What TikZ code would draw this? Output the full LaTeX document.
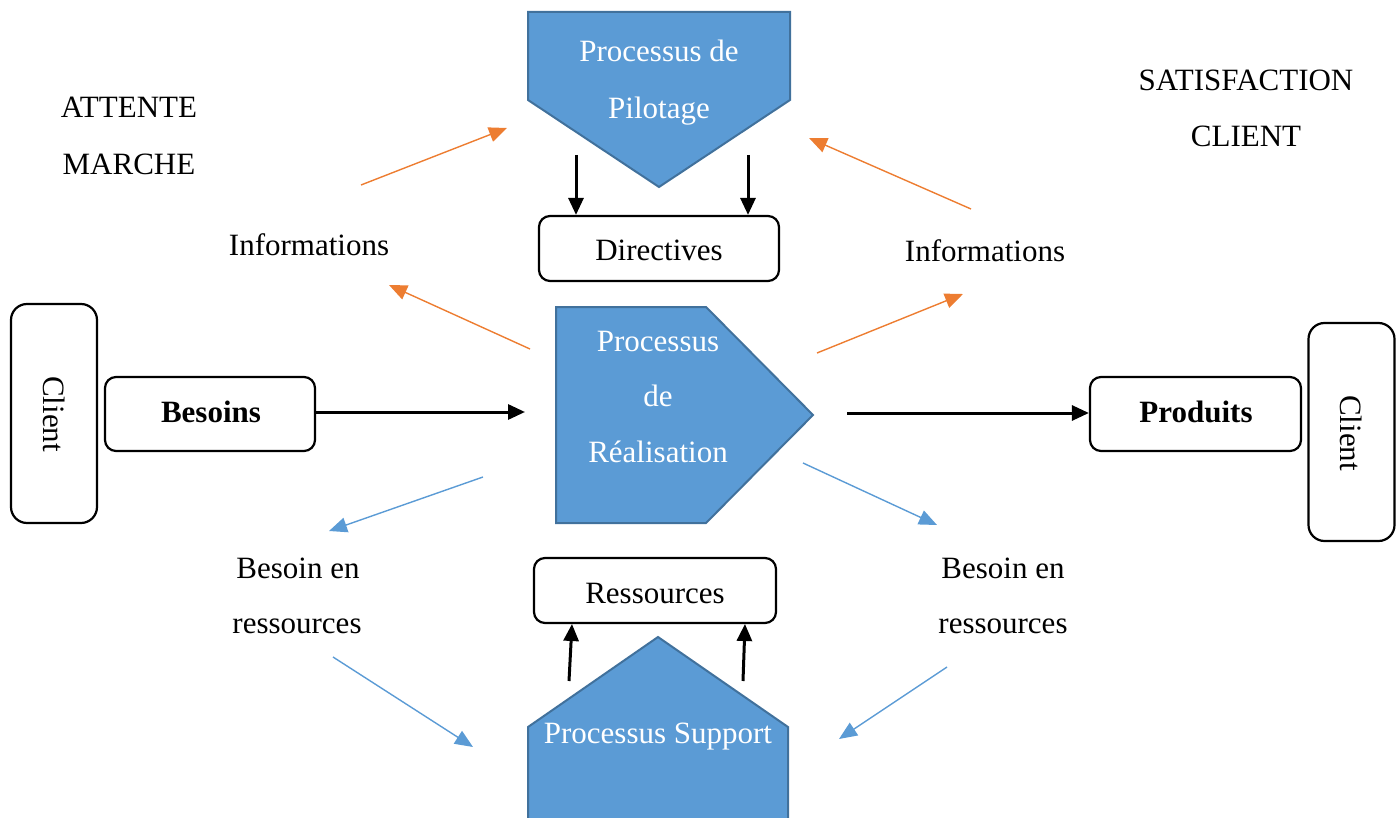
\documentclass[tikz,border=0pt]{standalone}
\usepackage{fontspec}
\setmainfont{Liberation Serif}
\usetikzlibrary{arrows.meta}
\definecolor{procfill}{HTML}{5B9BD5}
\definecolor{procdraw}{HTML}{41719C}
\definecolor{orangeln}{HTML}{ED7D31}
\definecolor{blueln}{HTML}{5B9BD5}
\begin{document}
\begin{tikzpicture}[x=1pt,y=-1pt,
  every node/.style={font=\fontsize{31}{36}\selectfont},
  box/.style={draw=black,line width=2.2pt,rounded corners=11pt,inner sep=0pt},
  clientbox/.style={box,rounded corners=16pt},
  proc/.style={fill=procfill,draw=procdraw,line width=2pt,line join=miter},
  wtext/.style={text=white,anchor=base,inner sep=0pt},
  btext/.style={text=black,anchor=base,inner sep=0pt},
  flow/.style={draw=black,line width=3pt,-{Triangle[length=17pt,width=15pt]}},
  info/.style={draw=orangeln,line width=1.4pt,-{Triangle[length=18pt,width=15pt]}},
  need/.style={draw=blueln,line width=1.4pt,-{Triangle[length=18pt,width=15pt]}}]
\useasboundingbox (0,0) rectangle (1397,818);

% --- process shapes ---
\draw[proc] (528,12) -- (790,12) -- (790,100) -- (659,187) -- (528,100) -- cycle;
\node[wtext] (pil1) at (659,62) {Processus de};
\node[wtext] (pil2) at (659,119) {Pilotage};

\draw[proc] (556,307) -- (706,307) -- (813,415) -- (706,523) -- (556,523) -- cycle;
\node[wtext] (rea1) at (658,351) {Processus};
\node[wtext] (rea2) at (658,406) {de};
\node[wtext] (rea3) at (658,462) {Réalisation};

\draw[proc] (528,830) -- (528,727) -- (658,637) -- (788,727) -- (788,830);
\node[wtext] (sup) at (658,743) {Processus Support};

% --- boxes ---
\node[box,minimum width=240pt,minimum height=65pt] (dir) at (659,248.5) {};
\node[btext] (dirt) at (659,261) {Directives};
\node[box,minimum width=242pt,minimum height=65pt] (res) at (655,590.5) {};
\node[btext] (rest) at (655,603) {Ressources};
\node[box,minimum width=210pt,minimum height=74pt] (bes) at (210,414) {};
\node[btext,font=\fontsize{31}{36}\selectfont\bfseries] (best) at (211,422) {Besoins};
\node[box,minimum width=211pt,minimum height=74pt] (pro) at (1195.5,414) {};
\node[btext,font=\fontsize{31}{36}\selectfont\bfseries] (prot) at (1196,422) {Produits};
\node[clientbox,minimum width=86pt,minimum height=219pt] (cl1) at (54,413.5) {};
\node[rotate=-90,inner sep=0pt] (cl1t) at (54,414) {Client};
\node[clientbox,minimum width=86pt,minimum height=218pt] (cl2) at (1351.5,432) {};
\node[rotate=-90,inner sep=0pt] (cl2t) at (1351.5,433) {Client};

% --- free labels ---
\node[btext] (att1) at (129,118) {ATTENTE};
\node[btext] (att2) at (129,175) {MARCHE};
\node[btext] (sat1) at (1246,91) {SATISFACTION};
\node[btext] (sat2) at (1246,147) {CLIENT};
\node[btext] (infL) at (309,256) {Informations};
\node[btext] (infR) at (985,262) {Informations};
\node[btext] (bL1) at (298,578) {Besoin en};
\node[btext] (bL2) at (297,633) {ressources};
\node[btext] (bR1) at (1003,578) {Besoin en};
\node[btext] (bR2) at (1003,633) {ressources};

% --- black flows ---
\coordinate (besEnd) at (525,412);
\draw[flow] (bes.east |- besEnd) -- (besEnd);
\coordinate (proStart) at (847,413);
\draw[flow] (proStart) -- (pro.west |- proStart);
\coordinate (pd1) at (576,155);
\coordinate (pd2) at (748,155);
\draw[flow] (pd1) -- (dir.north -| pd1);
\draw[flow] (pd2) -- (dir.north -| pd2);
\coordinate (su1) at (569,681);
\coordinate (su1e) at (572,624);
\coordinate (su2) at (743,681);
\coordinate (su2e) at (745,624);
\draw[flow] (su1) -- (su1e);
\draw[flow] (su2) -- (su2e);

% --- orange information arrows ---
\coordinate (o1s) at (361,185); \coordinate (o1e) at (507,128);
\coordinate (o2s) at (530,349); \coordinate (o2e) at (389,285);
\coordinate (o3s) at (971,209); \coordinate (o3e) at (809,138);
\coordinate (o4s) at (817,353); \coordinate (o4e) at (963,294);
\draw[info] (o1s) -- (o1e);
\draw[info] (o2s) -- (o2e);
\draw[info] (o3s) -- (o3e);
\draw[info] (o4s) -- (o4e);

% --- blue resource arrows ---
\coordinate (b1s) at (483,477); \coordinate (b1e) at (329,531);
\coordinate (b2s) at (333,657); \coordinate (b2e) at (473,747);
\coordinate (b3s) at (803,463); \coordinate (b3e) at (937,525);
\coordinate (b4s) at (947,667); \coordinate (b4e) at (839,739);
\draw[need] (b1s) -- (b1e);
\draw[need] (b2s) -- (b2e);
\draw[need] (b3s) -- (b3e);
\draw[need] (b4s) -- (b4e);
\end{tikzpicture}
\end{document}
